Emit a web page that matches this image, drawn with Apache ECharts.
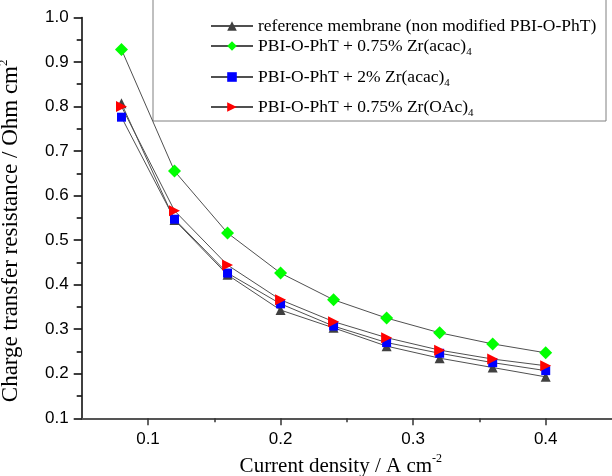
<!DOCTYPE html>
<html><head><meta charset="utf-8">
<script src="https://cdn.jsdelivr.net/npm/echarts@6/dist/echarts.min.js"></script>
<style>html,body{margin:0;padding:0;background:#fff}#c{width:612px;height:476px}</style>
</head><body><div id="c"></div>
<script>
const currentDensity = [0.08, 0.12, 0.16, 0.20, 0.24, 0.28, 0.32, 0.36, 0.40];
const refMembrane   = [0.807, 0.545, 0.422, 0.343, 0.303, 0.262, 0.235, 0.214, 0.193];
const zrAcac075     = [0.928, 0.655, 0.516, 0.426, 0.366, 0.325, 0.292, 0.267, 0.247];
const zrAcac2       = [0.776, 0.547, 0.426, 0.357, 0.307, 0.270, 0.246, 0.225, 0.207];
const zrOAc075      = [0.800, 0.566, 0.444, 0.366, 0.317, 0.281, 0.253, 0.233, 0.218];
const seriesNames = [
  'reference membrane (non modified PBI-O-PhT)',
  'PBI-O-PhT + 0.75% Zr(acac)4',
  'PBI-O-PhT + 2% Zr(acac)4',
  'PBI-O-PhT + 0.75% Zr(OAc)4'
];
const xMajorTicks = [0.1, 0.2, 0.3, 0.4];
const xMinorTicks = [0.15, 0.25, 0.35];

function pairs(ys){ return currentDensity.map((x,i)=>[x, ys[i]]); }
const serif = 'Liberation Serif, Times New Roman, serif';
const sans = 'Liberation Sans, Arial, sans-serif';
const lineCol = '#505050';

function mk(name, data, symbol, color, size, rot){
  return {
    name, type:'line', data: pairs(data), symbol, symbolSize:size, symbolRotate:rot||0,
    showSymbol:true, z: 3,
    lineStyle:{color:lineCol, width:1},
    itemStyle:{color:color, borderWidth:0},
    emphasis:{disabled:true}, animation:false
  };
}

function legendFmt(n){
  if (n.endsWith(')4')) return n.slice(0,-1) + '{sub|4}';
  return n;
}
const legendTops = [12, 32, 63, 93];
const legends = seriesNames.map((n,i)=>({
  data:[n], left:205, top:legendTops[i], itemWidth:42, itemHeight:12, itemGap:0,
  formatter: legendFmt, selectedMode:false,
  textStyle:{fontFamily:serif, fontSize:17.5, color:'#000',
    rich:{sub:{fontFamily:serif, fontSize:11, color:'#000', padding:[12,0,0,0]}}}
}));

const chart = echarts.init(document.getElementById('c'), null, {renderer:'canvas'});
chart.setOption({
  animation:false,
  backgroundColor:'#fff',
  grid:{left:81.7, right:0, top:17.4, bottom:57.7, containLabel:false, outerBoundsMode:'none'},
  legend: legends,
  graphic:[{type:'rect', shape:{x:153, y:-2, width:453, height:123},
    style:{fill:'#fff', stroke:'#808080', lineWidth:1}, z:0, silent:true}],
  xAxis:[{
    type:'value', min:0.05, max:0.45, interval:0.05,
    name:'Current density / A cm{sup|-2}', nameLocation:'middle', nameGap:34,
    nameTextStyle:{fontFamily:serif, fontSize:21, color:'#000', padding:[0,12,0,0],
      rich:{sup:{fontFamily:serif, fontSize:12, color:'#000', padding:[0,0,14,0]}}},
    axisLine:{show:true, onZero:false, lineStyle:{color:'#555', width:2}},
    axisTick:{show:true, inside:false, length:7, lineStyle:{color:'#333', width:1.5}, customValues:xMajorTicks},
    axisLabel:{show:true, margin:13, fontFamily:sans, fontSize:17, color:'#000', customValues:xMajorTicks,
      formatter:v=>v.toFixed(1)},
    splitLine:{show:false}
  },{
    type:'value', min:0.05, max:0.45, interval:0.05, position:'bottom',
    axisLine:{show:false},
    axisTick:{show:true, inside:false, length:4, lineStyle:{color:'#333', width:1.5}, customValues:xMinorTicks},
    axisLabel:{show:false}, splitLine:{show:false}
  }],
  yAxis:{
    type:'value', min:0.1, max:1.0, interval:0.1,
    name:'Charge transfer resistance / Ohm cm{sup|2}', nameLocation:'middle', nameGap:57, nameRotate:90,
    nameTextStyle:{fontFamily:serif, fontSize:23, color:'#000', padding:[0,26,0,0],
      rich:{sup:{fontFamily:serif, fontSize:13, color:'#000', padding:[0,0,15,0]}}},
    axisLine:{show:true, onZero:false, lineStyle:{color:'#000', width:1.5}},
    axisTick:{show:true, inside:false, length:8, lineStyle:{color:'#000', width:1.5}},
    minorTick:{show:true, splitNumber:2, length:5, lineStyle:{color:'#000', width:1.5}},
    axisLabel:{margin:13, fontFamily:sans, fontSize:17, color:'#000', formatter:v=>v.toFixed(1)},
    splitLine:{show:false}
  },
  series:[
    mk(seriesNames[0], refMembrane, 'triangle', '#404040', 10),
    mk(seriesNames[1], zrAcac075, 'diamond', '#00ff00', 13),
    mk(seriesNames[2], zrAcac2, 'rect', '#0000ff', 9),
    mk(seriesNames[3], zrOAc075, 'triangle', '#ff0000', 11, -90)
  ]
});
</script></body></html>
